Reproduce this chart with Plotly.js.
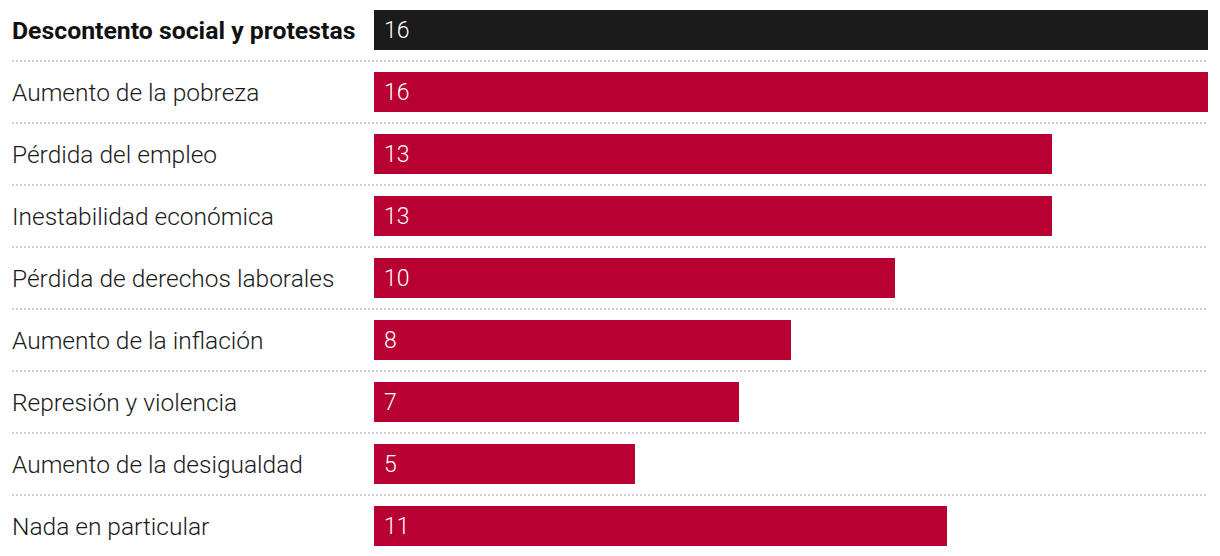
<!DOCTYPE html>
<html><head><meta charset="utf-8">
<script src="https://cdn.plot.ly/plotly-3.0.1.min.js"></script>
<style>html,body{margin:0;padding:0;background:#fff}#chart{width:1220px;height:556px}</style>
</head><body><div id="chart"></div>
<script>
const categories = ["Descontento social y protestas","Aumento de la pobreza","Pérdida del empleo","Inestabilidad económica","Pérdida de derechos laborales","Aumento de la inflación","Represión y violencia","Aumento de la desigualdad","Nada en particular"];
const values = [16,16,13,13,10,8,7,5,11];
const highlight = [true,false,false,false,false,false,false,false,false];

const W = 1220, H = 556, L = 374, R = 12;
const plotW = W - L - R;
const idx = categories.map((_, i) => i);
const colors = highlight.map(h => h ? "#1b1b1b" : "#b80032");
const labelX = -(L - 12) / plotW;

const trace = {
  type: "bar", orientation: "h", x: values, y: idx,
  marker: {color: colors, line: {width: 0}}, width: 40/62,
  hoverinfo: "skip"
};
const annotations = [];
idx.forEach(i => {
  annotations.push({xref: "paper", yref: "y", x: labelX, y: i, xanchor: "left", yanchor: "middle", xshift: -2,
    text: categories[i], showarrow: false,
    font: highlight[i] ? {family: "Roboto", size: 24.8, color: "#111111", weight: 700}
                       : {family: "Roboto", size: 24.5, color: "#1a1a1a", weight: 300}});
  annotations.push({xref: "x", yref: "y", x: 0, y: i, xanchor: "left", yanchor: "middle", xshift: 8,
    text: String(values[i]), showarrow: false,
    font: {family: "Roboto", size: 23, color: "#ffffff", weight: 300}});
});
const shapes = idx.slice(0, -1).map(i => ({type: "line", xref: "paper", yref: "y",
  x0: labelX, x1: 1, y0: i + 0.5, y1: i + 0.5, line: {color: "#cfcfcf", width: 2, dash: "2px,2px"}}));

const layout = {
  width: W, height: H, margin: {l: L, r: R, t: 0, b: 0},
  paper_bgcolor: "#fff", plot_bgcolor: "#fff", showlegend: false,
  xaxis: {range: [0, 16], visible: false, fixedrange: true},
  yaxis: {range: [8 + 30/62, -30/62], visible: false, fixedrange: true},
  annotations, shapes, bargap: 0
};
Plotly.newPlot("chart", [trace], layout, {displayModeBar: false, staticPlot: true});
</script></body></html>
